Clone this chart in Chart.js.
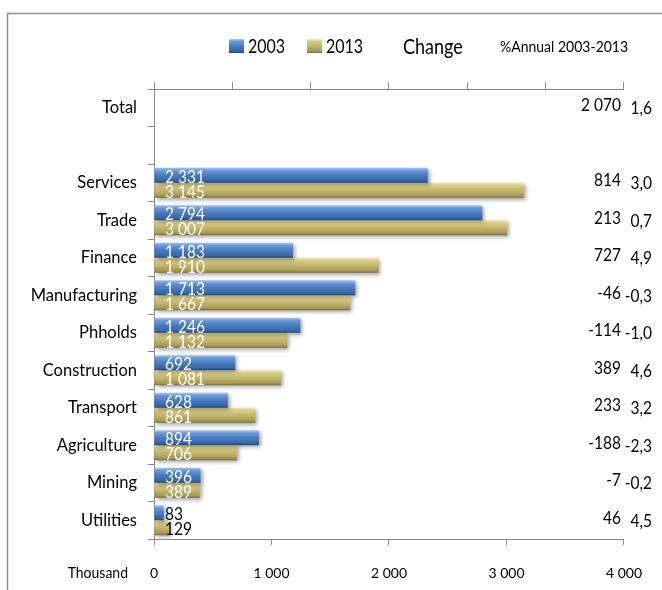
<!DOCTYPE html>
<html><head><meta charset="utf-8">
<script src="https://cdn.jsdelivr.net/npm/chart.js@4/dist/chart.umd.min.js"></script>
<style>html,body{margin:0;padding:0;background:#fff}#wrap{width:662px;height:590px;position:relative}</style>
</head><body><div id="wrap"><canvas id="c" width="662" height="590"></canvas></div>
<script>
const categories = ['Total','','Services','Trade','Finance','Manufacturing','Phholds','Construction','Transport','Agriculture','Mining','Utilities'];
const values2003 = [null,null,2331,2794,1183,1713,1246,692,628,894,396,83];
const values2013 = [null,null,3145,3007,1910,1667,1132,1081,861,706,389,129];
const changeValues = [2070,null,814,213,727,-46,-114,389,233,-188,-7,46];
const annualRates = ['1,6','','3,0','0,7','4,9','-0,3','-1,0','4,6','3,2','-2,3','-0,2','4,5'];
const xTickValues = [0,1000,2000,3000,4000];
const seriesNames = ['2003','2013'];
const columnHeaders = ['Change','%Annual 2003-2013'];
const axisUnit = 'Thousand';

const FONT = 'Lato, "Open Sans", sans-serif';
const AXIS_COLOR = '#8a8a8a';
const STRETCH = 1.14;
const STOPS = [
  [[0,'#a9c6ec'],[0.18,'#6d9ad6'],[0.5,'#4a7cc0'],[0.85,'#3767a6'],[1,'#22466f']],
  [[0,'#f0e7b4'],[0.18,'#d9cd8b'],[0.5,'#c4b66c'],[0.85,'#a89a56'],[1,'#776c38']]
];
function fmt(n){ return String(n).replace(/\B(?=(\d{3})+(?!\d))/g,' '); }
function makeGrad(ctx, top, bot, which){
  const g = ctx.createLinearGradient(0, top, 0, bot);
  STOPS[which].forEach(s=>g.addColorStop(s[0], s[1]));
  return g;
}
function barGradient(context, which){
  const chart = context.chart, ys = chart.scales.y;
  if(!ys || context.dataIndex == null || !chart.chartArea) return which ? '#c4b66c' : '#4a7cc0';
  const c = ys.getPixelForValue(context.dataIndex);
  const cat = ys.height / categories.length;
  const half = cat * 0.8 / 2;
  const top = which === 0 ? c - half : c;
  const bot = which === 0 ? c : c + half;
  return makeGrad(chart.ctx, top, bot, which);
}
function stretchText(ctx, t, x, y){
  ctx.save(); ctx.translate(x, y); ctx.scale(1, STRETCH); ctx.fillText(t, 0, 0); ctx.restore();
}

const decor = {
  id: 'decor',
  beforeDraw(chart){
    const ctx = chart.ctx;
    ctx.save();
    ctx.fillStyle = '#fff'; ctx.fillRect(0,0,chart.width,chart.height);
    ctx.strokeStyle = '#8f8f8f'; ctx.lineWidth = 1.5;
    ctx.strokeRect(7.5, 13.5, 800, 800);
    ctx.textBaseline = 'middle'; ctx.textAlign = 'left';
    const lx = [229, 307];
    seriesNames.forEach((name,i)=>{
      ctx.fillStyle = makeGrad(ctx, 39, 53, i);
      ctx.fillRect(lx[i], 39, 15, 14);
      ctx.fillStyle = '#000'; ctx.font = '16px ' + FONT;
      stretchText(ctx, name, lx[i] + 19, 47);
    });
    ctx.font = '18px ' + FONT; stretchText(ctx, columnHeaders[0], 403, 47);
    ctx.font = '14px ' + FONT; stretchText(ctx, columnHeaders[1], 500, 47);
    ctx.restore();
  },
  beforeDatasetsDraw(chart){
    const ctx = chart.ctx;
    ctx.save();
    ctx.shadowColor = 'rgba(0,0,0,0.35)'; ctx.shadowBlur = 4; ctx.shadowOffsetX = 2; ctx.shadowOffsetY = 2;
  },
  afterDatasetsDraw(chart){
    const ctx = chart.ctx;
    ctx.restore();
    ctx.save();
    ctx.textBaseline = 'middle'; ctx.textAlign = 'left';
    ctx.font = '15.5px ' + FONT;
    const left = chart.chartArea.left;
    chart.data.datasets.forEach((ds, di)=>{
      const meta = chart.getDatasetMeta(di);
      meta.data.forEach((el, idx)=>{
        const v = ds.data[idx];
        if(v == null) return;
        const t = fmt(v);
        const w = ctx.measureText(t).width;
        const len = el.x - left;
        ctx.fillStyle = len > w + 16 ? '#fff' : '#000';
        stretchText(ctx, t, left + 11, el.y + 2);
      });
    });
    const ys = chart.scales.y;
    ctx.fillStyle = '#000';
    ctx.font = '15.5px ' + FONT;
    categories.forEach((c, idx)=>{
      const y = ys.getPixelForValue(idx);
      ctx.textAlign = 'right';
      if(changeValues[idx] != null) stretchText(ctx, fmt(changeValues[idx]), 621, y - 2);
      if(annualRates[idx]) stretchText(ctx, annualRates[idx], 652, y + 1);
    });
    ctx.font = '14px ' + FONT; ctx.textAlign = 'right';
    stretchText(ctx, axisUnit, left - 26, 573);
    ctx.restore();
  }
};

new Chart(document.getElementById('c'), {
  type: 'bar',
  data: {
    labels: categories,
    datasets: [
      { label: seriesNames[0], data: values2003, backgroundColor: c => barGradient(c, 0), borderWidth: 0 },
      { label: seriesNames[1], data: values2013, backgroundColor: c => barGradient(c, 1), borderWidth: 0 }
    ]
  },
  options: {
    indexAxis: 'y',
    responsive: false,
    animation: false,
    devicePixelRatio: 1,
    categoryPercentage: 0.8,
    barPercentage: 1.0,
    layout: { padding: { left: 0, right: 36, top: 0, bottom: 0 } },
    plugins: { legend: { display: false }, tooltip: { enabled: false } },
    scales: {
      x: {
        position: 'bottom', min: 0, max: 4000,
        afterBuildTicks: s => { s.ticks = xTickValues.map(v => ({ value: v })); },
        ticks: { color: '#000', font: { family: FONT, size: 14 }, padding: 20, callback: v => fmt(v), maxRotation: 0 },
        grid: { drawOnChartArea: false, tickLength: 6, color: AXIS_COLOR },
        border: { color: AXIS_COLOR },
        afterFit: s => { s.height = 51; }
      },
      x2: {
        type: 'linear', position: 'top', min: 0, max: 6,
        ticks: { display: false, stepSize: 1 },
        grid: { drawOnChartArea: false, tickLength: 7, color: AXIS_COLOR },
        border: { color: AXIS_COLOR },
        afterFit: s => { s.height = 89; }
      },
      y: {
        type: 'category', position: 'left', offset: true,
        ticks: { color: '#000', font: { family: FONT, size: 16.5 }, padding: 11, autoSkip: false },
        grid: { drawOnChartArea: false, offset: true, tickLength: 6, color: AXIS_COLOR },
        border: { color: AXIS_COLOR },
        afterFit: s => { s.width = 154; }
      }
    }
  },
  plugins: [decor]
});
</script>
</body></html>
